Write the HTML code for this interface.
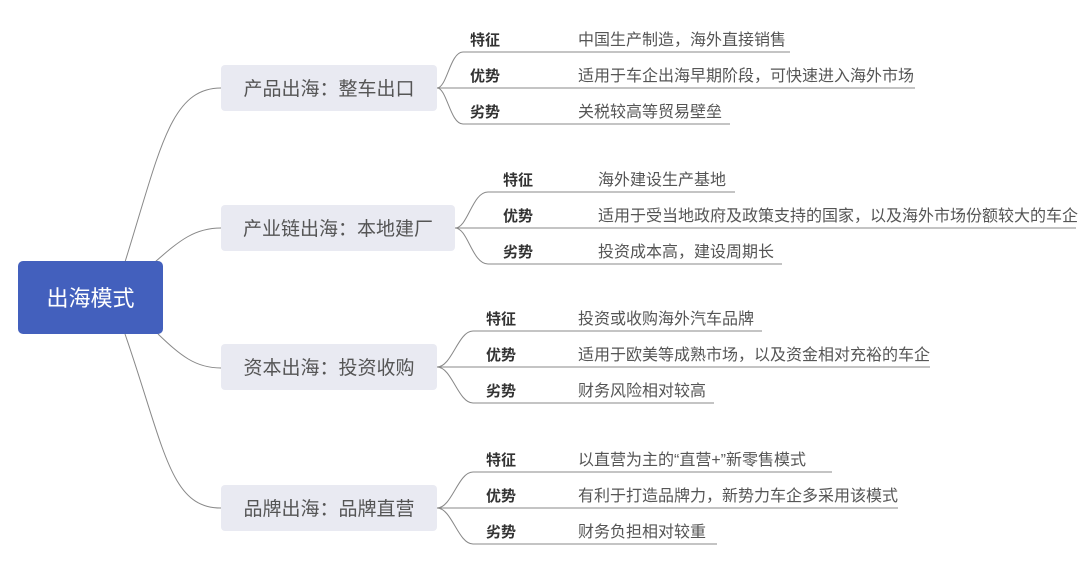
<!DOCTYPE html>
<html><head><meta charset="utf-8"><style>
body{margin:0;background:#fff;width:1080px;height:565px;overflow:hidden;font-family:"Liberation Sans","Noto Sans CJK SC",sans-serif}
svg{position:absolute;left:0;top:0}
.b{font-size:19px;fill:#555}
.l{font-size:15px;font-weight:bold;fill:#333}
.t{font-size:16px;fill:#555}
path{fill:none;stroke:#888;stroke-width:1}
</style></head><body>
<svg width="1080" height="565" viewBox="0 0 1080 565">
<path d="M125 262 C160 150,170 88,221 88"/>
<path d="M155 262 C180 240,195 228,221 228"/>
<path d="M158 334 C180 355,195 368,221 368"/>
<path d="M125 334 C165 450,170 508,221 508"/>
<rect x="18" y="261" width="145" height="73" rx="5" fill="#4360bd"/>
<text x="90.5" y="306" font-size="22" fill="#fff" text-anchor="middle">出海模式</text>

<rect x="221" y="65" width="216" height="46" rx="4" fill="#e9eaf2"/>
<text class="b" x="329" y="95" text-anchor="middle">产品出海：整车出口</text>
<path d="M437 88 C447 88,450 52,463 52 L790 52"/>
<path d="M437 88 L915 88"/>
<path d="M437 88 C447 88,450 124,463 124 L730 124"/>
<text class="l" x="470" y="45">特征</text><text class="t" x="578" y="45">中国生产制造，海外直接销售</text>
<text class="l" x="470" y="81">优势</text><text class="t" x="578" y="81">适用于车企出海早期阶段，可快速进入海外市场</text>
<text class="l" x="470" y="117">劣势</text><text class="t" x="578" y="117">关税较高等贸易壁垒</text>

<rect x="221" y="205" width="234" height="46" rx="4" fill="#e9eaf2"/>
<text class="b" x="338" y="235" text-anchor="middle">产业链出海：本地建厂</text>
<path d="M455 228 C468 228,472 192,488 192 L735 192"/>
<path d="M455 228 L1076 228"/>
<path d="M455 228 C468 228,472 264,488 264 L782 264"/>
<text class="l" x="503" y="185">特征</text><text class="t" x="598" y="185">海外建设生产基地</text>
<text class="l" x="503" y="221">优势</text><text class="t" x="598" y="221">适用于受当地政府及政策支持的国家，以及海外市场份额较大的车企</text>
<text class="l" x="503" y="257">劣势</text><text class="t" x="598" y="257">投资成本高，建设周期长</text>

<rect x="221" y="344" width="216" height="46" rx="4" fill="#e9eaf2"/>
<text class="b" x="329" y="374" text-anchor="middle">资本出海：投资收购</text>
<path d="M437 367 C452 367,458 331,473 331 L762 331"/>
<path d="M437 367 L930 367"/>
<path d="M437 367 C452 367,458 403,473 403 L714 403"/>
<text class="l" x="486" y="324">特征</text><text class="t" x="578" y="324">投资或收购海外汽车品牌</text>
<text class="l" x="486" y="360">优势</text><text class="t" x="578" y="360">适用于欧美等成熟市场，以及资金相对充裕的车企</text>
<text class="l" x="486" y="396">劣势</text><text class="t" x="578" y="396">财务风险相对较高</text>

<rect x="221" y="485" width="216" height="46" rx="4" fill="#e9eaf2"/>
<text class="b" x="329" y="515" text-anchor="middle">品牌出海：品牌直营</text>
<path d="M437 508 C452 508,458 472,473 472 L832 472"/>
<path d="M437 508 L898 508"/>
<path d="M437 508 C452 508,458 544,473 544 L717 544"/>
<text class="l" x="486" y="465">特征</text><text class="t" x="578" y="465">以直营为主的“直营+”新零售模式</text>
<text class="l" x="486" y="501">优势</text><text class="t" x="578" y="501">有利于打造品牌力，新势力车企多采用该模式</text>
<text class="l" x="486" y="537">劣势</text><text class="t" x="578" y="537">财务负担相对较重</text>
</svg>
</body></html>
